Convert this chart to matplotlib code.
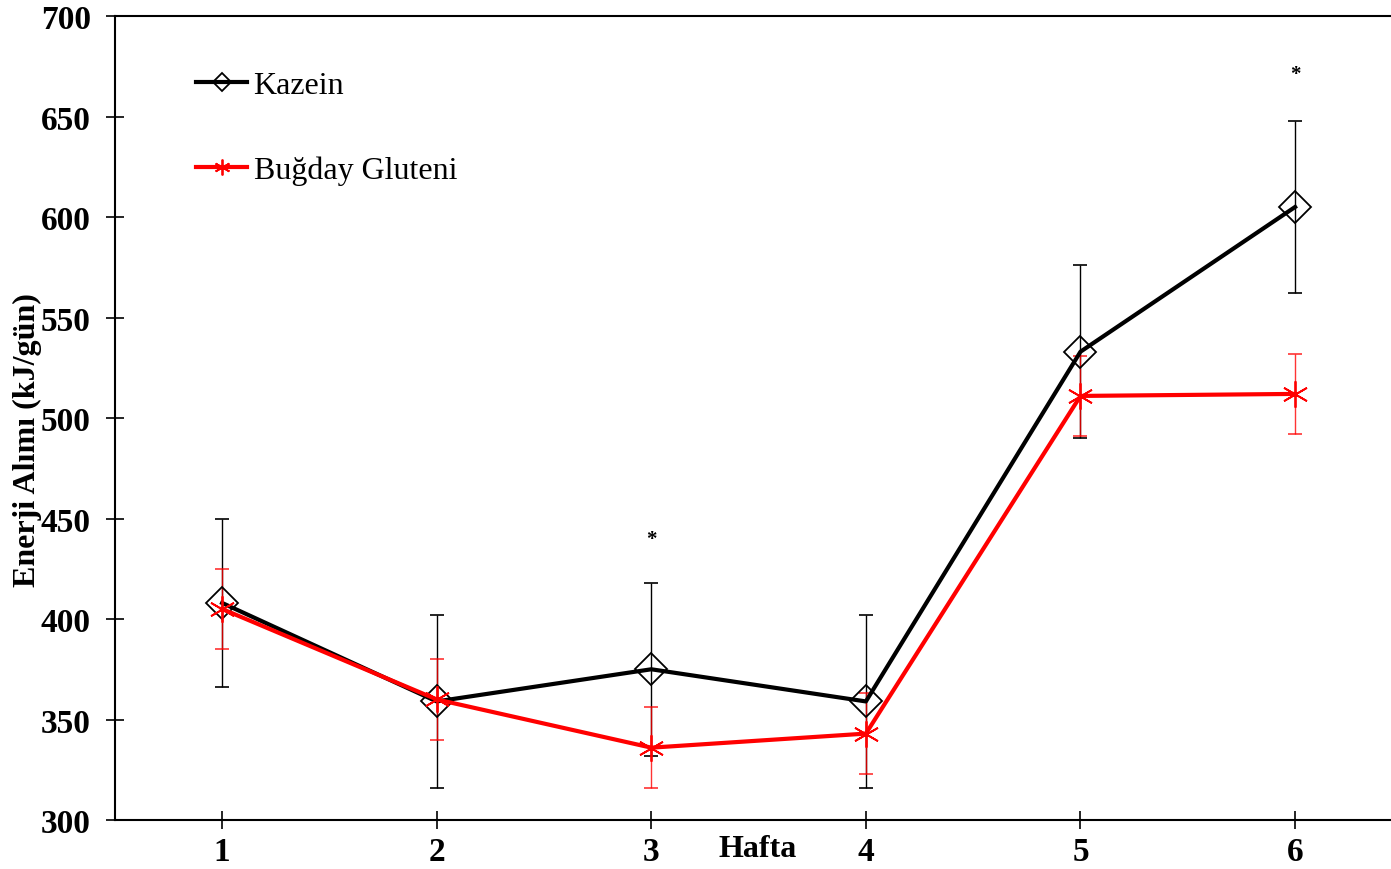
import numpy as np
import matplotlib.pyplot as plt

plt.rcParams['font.family'] = ['Liberation Serif', 'DejaVu Serif']

# data
hafta = [1, 2, 3, 4, 5, 6]
kazein = [408, 359, 375, 359, 533, 605]
kazein_err = [42, 43, 43, 43, 43, 43]
gluten = [405, 360, 336, 343, 511, 512]
gluten_err = [20, 20, 20, 20, 20, 20]
star_x = [3, 6]
star_y = [440, 671]
yticks = [300, 350, 400, 450, 500, 550, 600, 650, 700]

fig = plt.figure(figsize=(13.91, 8.70), dpi=100)
ax = fig.add_axes([0.0827, 0.0563, 0.9173, 0.9241])

ax.errorbar(hafta, kazein, yerr=kazein_err, fmt='none', ecolor='black',
            elinewidth=1.0, capsize=5, capthick=1.2)
ax.errorbar(hafta, gluten, yerr=gluten_err, fmt='none', ecolor='red',
            elinewidth=1.0, capsize=5, capthick=1.2, alpha=0.8)
ax.plot(hafta, kazein, color='black', lw=3, marker='D', ms=16,
        mfc='none', mec='black', mew=1.3, label='Kazein')
ax.plot(hafta, gluten, color='red', lw=3, marker=(6, 2, 0), ms=19,
        mec='red', mew=1.3, label='Buğday Gluteni')

for x, y in zip(star_x, star_y):
    ax.text(x, y, '*', ha='center', va='center', fontsize=15, fontweight='bold')

ax.set_xlim(0.501, 6.447)
ax.set_ylim(300, 700)
ax.set_xticks(hafta)
ax.set_yticks(yticks)
ax.tick_params(direction='inout', length=13, width=1.2, labelsize=24, pad=5)
ax.tick_params(axis='y', pad=11)
for lab in ax.get_xticklabels() + ax.get_yticklabels():
    lab.set_fontweight('bold')

ax.spines['right'].set_visible(False)
for s in ['left', 'bottom', 'top']:
    ax.spines[s].set_linewidth(1.5)

ax.set_ylabel('Enerji Alımı (kJ/gün)', fontsize=23, fontweight='bold')
ax.yaxis.set_label_coords(-0.057, 0.474)
ax.set_xlabel('Hafta', fontsize=23, fontweight='bold')
ax.xaxis.set_label_coords(0.504, -0.018)

leg = ax.legend(loc='upper left', bbox_to_anchor=(0.041, 0.968), frameon=False,
                fontsize=23, handlelength=1.6, handletextpad=0.2,
                labelspacing=1.75, markerscale=0.6)

fig.savefig('out.png', dpi=100)
